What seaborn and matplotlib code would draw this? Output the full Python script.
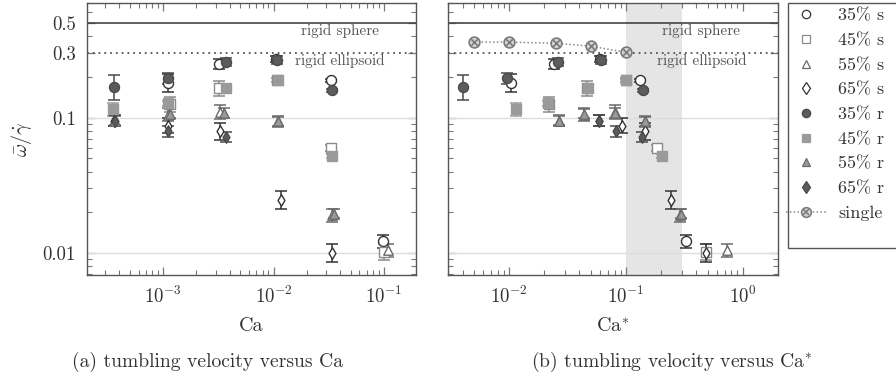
import numpy as np
import matplotlib
matplotlib.use("Agg")
import matplotlib.pyplot as plt
import seaborn as sns
from matplotlib.lines import Line2D
from matplotlib.patches import Rectangle
from matplotlib.ticker import FixedLocator, LogLocator, NullFormatter, FixedFormatter

# ---------------- data ----------------
ca_35s = [1.1e-3, 3.2e-3, 1.05e-2, 3.3e-2, 0.097]
cs_35s = [0.0104, 0.024, 0.060, 0.132, 0.326]
w_35s = [0.18, 0.25, 0.27, 0.188, 0.0122]
e_35s = [0.17, 0.09, 0.05, 0.03, 0.12]

ca_45s = [1.15e-3, 3.2e-3, 1.08e-2, 3.3e-2, 0.100]
cs_45s = [0.022, 0.046, 0.100, 0.184, 0.48]
w_45s = [0.125, 0.164, 0.19, 0.060, 0.0102]
e_45s = [0.14, 0.14, 0.03, 0.05, 0.14]

ca_55s = [3.6e-4, 1.1e-3, 3.3e-3, 1.1e-2, 3.4e-2, 0.108]
cs_55s = [0.0268, 0.0437, 0.080, 0.145, 0.29, 0.73]
w_55s = [0.095, 0.105, 0.11, 0.094, 0.019, 0.0105]
e_55s = [0.10, 0.12, 0.12, 0.10, 0.12, 0.12]

ca_65s = [3.6e-4, 1.1e-3, 3.25e-3, 1.16e-2, 3.42e-2]
cs_65s = [0.059, 0.093, 0.145, 0.242, 0.48]
w_65s = [0.095, 0.087, 0.079, 0.0247, 0.0100]
e_65s = [0.10, 0.14, 0.15, 0.17, 0.17]

ca_35r = [3.6e-4, 1.12e-3, 3.7e-3, 1.08e-2, 3.4e-2]
cs_35r = [0.004, 0.0096, 0.026, 0.061, 0.140]
w_35r = [0.167, 0.195, 0.256, 0.264, 0.159]
e_35r = [0.23, 0.10, 0.07, 0.07, 0.03]

ca_45r = [3.5e-4, 1.1e-3, 3.7e-3, 1.1e-2, 3.4e-2]
cs_45r = [0.0115, 0.0215, 0.047, 0.100, 0.203]
w_45r = [0.115, 0.127, 0.164, 0.188, 0.052]
e_45r = [0.12, 0.05, 0.03, 0.03, 0.03]

ca_55r = [3.7e-4, 1.15e-3, 3.6e-3, 1.1e-2, 3.5e-2]
cs_55r = [0.0268, 0.044, 0.080, 0.145, 0.295]
w_55r = [0.095, 0.107, 0.108, 0.094, 0.0195]
e_55r = [0.08, 0.08, 0.08, 0.08, 0.08]

ca_65r = [3.7e-4, 1.12e-3, 3.7e-3]
cs_65r = [0.059, 0.082, 0.137]
w_65r = [0.095, 0.079, 0.072]
e_65r = [0.10, 0.10, 0.09]

single_cs = [0.005, 0.010, 0.025, 0.050, 0.100]
single_w = [0.36, 0.36, 0.353, 0.336, 0.303]

rigid_sphere = 0.5
rigid_ellipsoid = 0.3

labels = ["35% s", "45% s", "55% s", "65% s", "35% r", "45% r", "55% r", "65% r", "single"]

# ---------------- style ----------------
sns.set_theme(style="ticks")
FS = 13.5
plt.rcParams.update({
    "font.family": ["cmr10"],
    "mathtext.fontset": "cm",
    "axes.formatter.use_mathtext": True,
    "axes.unicode_minus": False,
    "font.size": FS,
    "xtick.labelsize": FS,
    "ytick.labelsize": FS,
    "axes.labelsize": 14.5,
    "legend.fontsize": 13,
    "axes.edgecolor": "#555555",
    "axes.linewidth": 1.0,
    "text.color": "#333333",
    "axes.labelcolor": "#333333",
    "xtick.color": "#777777",
    "ytick.color": "#777777",
    "xtick.labelcolor": "#333333",
    "ytick.labelcolor": "#333333",
})

series = [
    (ca_35s, cs_35s, w_35s, e_35s, dict(marker="o", face="white", edge="#333333", s=52, ecol="#333333")),
    (ca_45s, cs_45s, w_45s, e_45s, dict(marker="s", face="white", edge="#8a8a8a", s=44, ecol="#8a8a8a")),
    (ca_55s, cs_55s, w_55s, e_55s, dict(marker="^", face="white", edge="#6a6a6a", s=46, ecol="#6a6a6a")),
    (ca_65s, cs_65s, w_65s, e_65s, dict(marker="d", face="white", edge="#333333", s=34, ecol="#333333")),
    (ca_35r, cs_35r, w_35r, e_35r, dict(marker="o", face="#5c5c5c", edge="#4a4a4a", s=52, ecol="#4a4a4a")),
    (ca_45r, cs_45r, w_45r, e_45r, dict(marker="s", face="#9a9a9a", edge="#9a9a9a", s=44, ecol="#9a9a9a")),
    (ca_55r, cs_55r, w_55r, e_55r, dict(marker="^", face="#9a9a9a", edge="#6a6a6a", s=46, ecol="#6a6a6a")),
    (ca_65r, cs_65r, w_65r, e_65r, dict(marker="d", face="#5c5c5c", edge="#4a4a4a", s=34, ecol="#4a4a4a")),
]

fig = plt.figure(figsize=(8.96, 3.77), dpi=100)
ax1 = fig.add_axes([0.0971, 0.2706, 0.3672, 0.7215])
ax2 = fig.add_axes([0.5000, 0.2706, 0.3683, 0.7215])


def draw_panel(ax, use_star):
    for ca, cs, w, e, st in series:
        x = np.array(cs if use_star else ca)
        y = np.array(w)
        rel = np.array(e)
        lo = y - y / (1 + rel)
        hi = y * rel
        ax.errorbar(x, y, yerr=[lo, hi], fmt="none", ecolor=st["ecol"],
                    elinewidth=1.1, capsize=4, capthick=1.1, zorder=3)
        sns.scatterplot(x=x, y=y, ax=ax, marker=st["marker"], s=st["s"],
                        color=st["face"], edgecolor=st["edge"], linewidth=1.0,
                        zorder=4, legend=False)


for ax, star in [(ax1, False), (ax2, True)]:
    ax.set_xscale("log")
    ax.set_yscale("log")
    ax.set_ylim(0.0069, 0.70)
    ax.axhline(0.1, color="#dddddd", lw=1.0, zorder=1)
    ax.axhline(0.01, color="#dddddd", lw=1.0, zorder=1)
    ax.axhline(rigid_sphere, color="#444444", lw=1.2, zorder=2)
    ax.axhline(rigid_ellipsoid, color="#555555", lw=1.3, ls=(0, (1, 2.2)), zorder=2)
    ax.annotate("rigid sphere", xy=(0.768, rigid_sphere), xycoords=("axes fraction", "data"),
                xytext=(0, -5.5), textcoords="offset points", ha="center", va="center",
                fontsize=11, color="#555555")
    ax.annotate("rigid ellipsoid", xy=(0.768, rigid_ellipsoid), xycoords=("axes fraction", "data"),
                xytext=(0, -5.5), textcoords="offset points", ha="center", va="center",
                fontsize=11, color="#555555")
    draw_panel(ax, star)
    ax.yaxis.set_major_locator(FixedLocator([0.01, 0.1, 0.3, 0.5]))
    ax.yaxis.set_minor_locator(LogLocator(base=10, subs=np.arange(2, 10), numticks=20))
    ax.yaxis.set_minor_formatter(NullFormatter())
    ax.xaxis.set_minor_locator(LogLocator(base=10, subs=np.arange(2, 10), numticks=20))
    ax.xaxis.set_minor_formatter(NullFormatter())
    ax.tick_params(which="both", direction="in", top=True, right=True)
    ax.tick_params(which="major", length=6, width=0.9, pad=8)
    ax.tick_params(which="minor", length=3.5, width=0.8)
    for sp in ax.spines.values():
        sp.set_color("#555555")

ax1.set_xlim(2.05e-4, 0.195)
ax2.set_xlim(3.0e-3, 2.0)
ax1.yaxis.set_major_formatter(FixedFormatter(["0.01", "0.1", "0.3", "0.5"]))
ax2.yaxis.set_major_formatter(NullFormatter())

ax2.axvspan(0.1, 0.3, color="#e5e5e5", zorder=0, lw=0)

ax2.plot(single_cs, single_w, ls=(0, (1, 1.5)), color="#888888", lw=1.1, zorder=4)
sns.scatterplot(x=single_cs, y=single_w, ax=ax2, marker="o", s=60, color="#d4d4d4",
                edgecolor="#7a7a7a", linewidth=1.2, zorder=5, legend=False)
sns.scatterplot(x=single_cs, y=single_w, ax=ax2, marker="x", s=22, color="#7a7a7a",
                linewidth=1.2, zorder=6, legend=False)

ax1.set_xlabel("Ca", labelpad=7)
ax2.set_xlabel("Ca$^{*}$", labelpad=7)
ax1.set_ylabel(r"$\bar{\omega}/\dot{\gamma}$", labelpad=6)

fig.text(0.232, 0.04, "(a) tumbling velocity versus Ca", ha="center", va="center", fontsize=14.1)
fig.text(0.75, 0.04, "(b) tumbling velocity versus Ca$^{*}$", ha="center", va="center", fontsize=14.1)

# legend frame (drawn separately to match the reference box size)
frame = Rectangle((788 / 896, 1 - 248 / 377), 0.14, 245 / 377, transform=fig.transFigure,
                  facecolor="white", edgecolor="#555555", lw=1.0, zorder=1)
fig.add_artist(frame)

handles = []
for _, _, _, _, st in series:
    handles.append(Line2D([], [], ls="none", marker=st["marker"], mfc=st["face"],
                          mec=st["edge"], ms=6, mew=0.9))
h_line = Line2D([], [], ls=(0, (1, 1.5)), color="#888888", lw=1.1, marker="o", ms=7,
                mfc="#d4d4d4", mec="#7a7a7a", mew=1.1)
h_x = Line2D([], [], ls="none", marker="x", ms=4, mec="#7a7a7a", mew=1.1)
handles.append((h_line, h_x))
leg = fig.legend(handles, labels, loc="upper left", bbox_to_anchor=(786 / 896, 1 - 8 / 377),
                 frameon=False, fontsize=13, labelspacing=0.50, handlelength=2.22,
                 handletextpad=0.67, borderpad=0.0, borderaxespad=0)
leg.set_zorder(2)

fig.savefig("out.png", dpi=100)
